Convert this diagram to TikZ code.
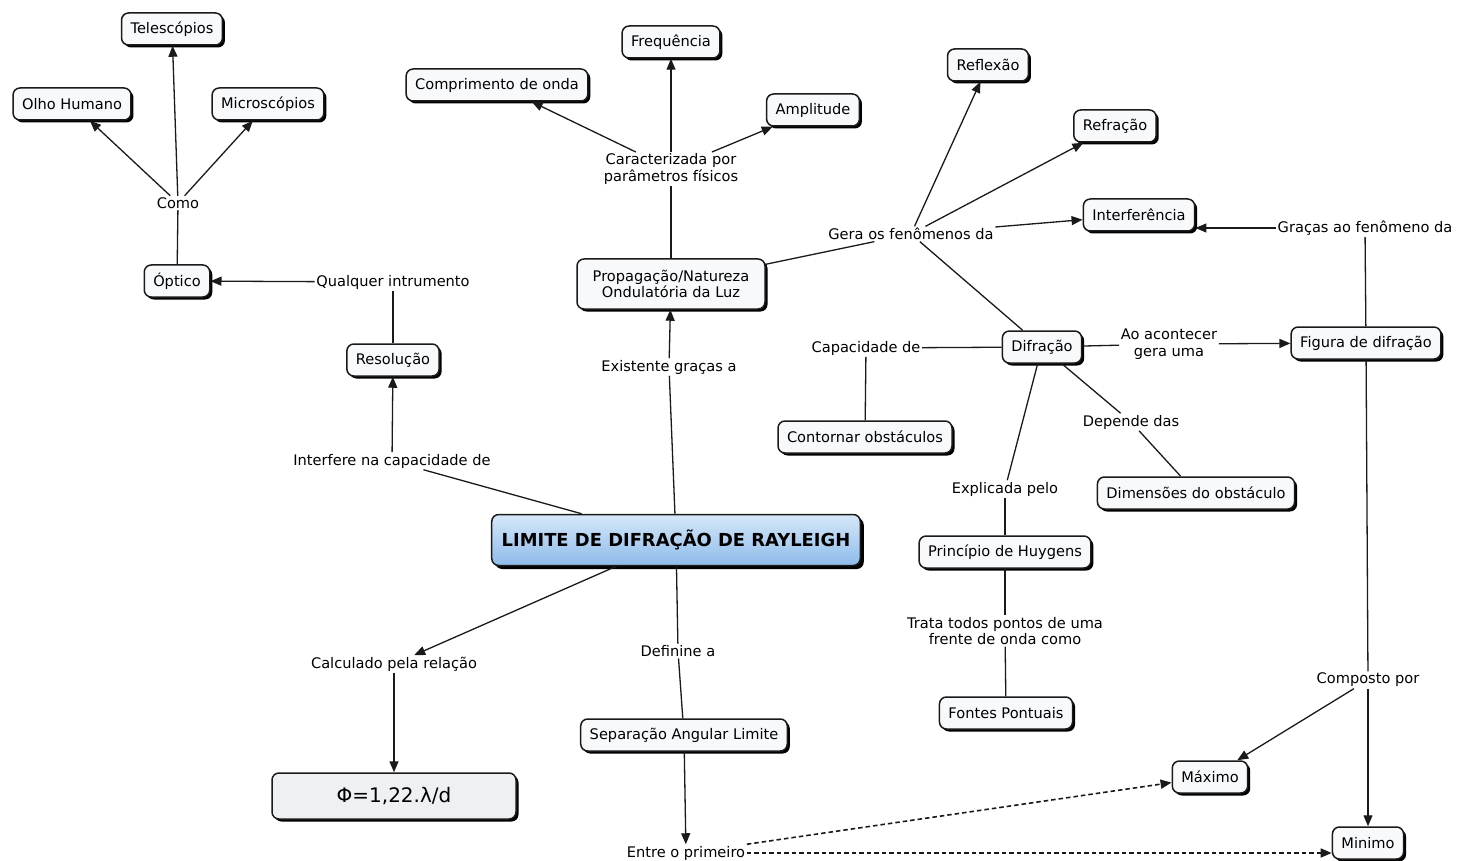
\documentclass[tikz,border=0pt]{standalone}
\usepackage{fontspec}
\setmainfont{DejaVu Sans}
\usetikzlibrary{arrows.meta,positioning,calc,shadows}
\definecolor{ink}{HTML}{1A1A1A}
\definecolor{paper}{HTML}{F7F9FB}
\definecolor{raytop}{HTML}{D6E8F9}
\definecolor{raybot}{HTML}{8DBBEA}
\definecolor{formula}{HTML}{EDF1F4}
\tikzset{concept/.style={draw=ink,line width=1.5pt,rounded corners=7pt,fill=paper,minimum height=32pt,inner xsep=9pt,align=center,font=\fontsize{14.6}{16.5}\selectfont,drop shadow={shadow xshift=2.5pt,shadow yshift=-2.5pt,fill=black,opacity=1}},phrase/.style={inner sep=1.5pt,align=center,font=\fontsize{14.6}{16.5}\selectfont},link/.style={draw=ink,line width=1.3pt},linkto/.style={link,-{Triangle[length=11pt,width=9pt]}},dashlink/.style={linkto,line width=1.6pt,dash pattern=on 4.5pt off 3pt},every picture/.style={>=Latex}}

\begin{document}
\begin{tikzpicture}[x=1pt,y=-1pt]
  \useasboundingbox[fill=white] (0,0) rectangle (1457,861);
  % concepts
  \node[concept] (tele) at (172,29) {Telescópios};
  \node[concept] (olho) at (72,104) {Olho Humano};
  \node[concept] (micro) at (268,104) {Microscópios};
  \node[concept] (optico) at (177,281) {Óptico};
  \node[concept] (resol) at (393,360) {Resolução};
  \node[concept] (compr) at (497,85) {Comprimento de onda};
  \node[concept] (freq) at (671,42) {Frequência};
  \node[concept] (ampl) at (813,110) {Amplitude};
  \node[concept,minimum height=50pt,minimum width=188pt] (prop) at (671,284) {Propagação/Natureza\\Ondulatória da Luz};
  \node[concept] (refl) at (988,65) {Reflexão};
  \node[concept] (refr) at (1115,126) {Refração};
  \node[concept] (interf) at (1139,215) {Interferência};
  \node[concept] (difr) at (1042,347) {Difração};
  \node[concept] (figura) at (1366,343) {Figura de difração};
  \node[concept] (contorno) at (865,437) {Contornar obstáculos};
  \node[concept] (dimens) at (1196,493) {Dimensões do obstáculo};
  \node[concept] (huygens) at (1005,552) {Princípio de Huygens};
  \node[concept] (fontes) at (1006,713) {Fontes Pontuais};
  \node[concept,minimum height=51pt,inner xsep=10pt,shading=axis,top color=raytop,bottom color=raybot,font=\fontsize{17.9}{20}\selectfont\bfseries,drop shadow={shadow xshift=3.5pt,shadow yshift=-3.5pt,fill=black,opacity=1}] (rayleigh) at (676,540) {LIMITE DE DIFRAÇÃO DE RAYLEIGH};
  \node[concept] (separ) at (684,735) {Separação Angular Limite};
  \node[concept,fill=formula,minimum width=244pt,minimum height=46pt,font=\fontsize{20}{24}\selectfont] (phi) at (394,796) {Φ=1,22.λ/d};
  \node[concept] (maximo) at (1210,777) {Máximo};
  \node[concept] (minimo) at (1368,843) {Minimo};
  % linking phrases
  \node[phrase] (como) at (178,203) {Como};
  \node[phrase] (qualquer) at (393,282) {Qualquer intrumento};
  \node[phrase] (interfere) at (392,461) {Interfere na capacidade de};
  \node[phrase] (caract) at (671,169) {Caracterizada por\\parâmetros físicos};
  \node[phrase] (existe) at (669,367) {Existente graças a};
  \node[phrase] (gera) at (911,234) {Gera os fenômenos da};
  \node[phrase] (gracas) at (1365,228) {Graças ao fenômeno da};
  \node[phrase] (capac) at (866,348) {Capacidade de};
  \node[phrase] (acontece) at (1169,344) {Ao acontecer\\gera uma};
  \node[phrase] (depende) at (1131,422) {Depende das};
  \node[phrase] (explic) at (1005,489) {Explicada pelo};
  \node[phrase] (trata) at (1005,631) {Trata todos pontos de uma\\frente de onda como};
  \node[phrase] (composto) at (1368,680) {Composto por};
  \node[phrase] (calc) at (394,664) {Calculado pela relação};
  \node[phrase] (define) at (678,651) {Definine a};
  \node[phrase] (entre) at (686,853) {Entre o primeiro};
  % instruments
  \draw[link] (optico) -- (como);
  \draw[linkto] (como) -- (tele);
  \draw[linkto] (como) -- (olho);
  \draw[linkto] (como) -- (micro);
  \draw[link] (resol) -- (qualquer);
  \draw[linkto] (qualquer) -- (optico);
  \draw[link] (rayleigh) -- (interfere);
  \draw[linkto] (interfere) -- (resol);
  % wave nature
  \draw[link] (rayleigh) -- (existe);
  \draw[linkto] (existe) -- (prop);
  \draw[link] (prop) -- (caract);
  \draw[linkto] (caract) -- (freq);
  \draw[linkto] (caract) -- (compr);
  \draw[linkto] (caract) -- (ampl);
  \draw[link] (prop) -- (gera);
  \draw[linkto] (gera) -- (refl);
  \draw[linkto] (gera) -- (refr);
  \draw[linkto] (gera) -- (interf);
  \draw[link] (gera) -- (difr);
  % diffraction
  \draw[link] (difr) -- (capac);
  \draw[link] (capac) -- (contorno);
  \draw[link] (difr) -- (acontece);
  \draw[linkto] (acontece) -- (figura);
  \draw[link] (difr) -- (depende);
  \draw[link] (depende) -- (dimens);
  \draw[link] (difr) -- (explic);
  \draw[link] (explic) -- (huygens);
  \draw[link] (huygens) -- (trata);
  \draw[link] (trata) -- (fontes);
  \draw[link] (figura) -- (gracas);
  \draw[linkto] (gracas) -- (gracas -| interf.east);
  \draw[link] (figura) -- (composto);
  \draw[linkto] (composto) -- (maximo);
  \draw[linkto] (composto) -- (minimo);
  % formula and angular limit
  \draw[linkto] (rayleigh) -- (calc);
  \draw[linkto] (calc) -- (phi);
  \draw[link] (rayleigh) -- (define);
  \draw[link] (define) -- (separ);
  \draw[linkto] (separ) -- (entre);
  \draw[dashlink] (entre) -- (maximo);
  \draw[dashlink] (entre.east) -- (entre.east -| minimo.west);
\end{tikzpicture}
\end{document}
